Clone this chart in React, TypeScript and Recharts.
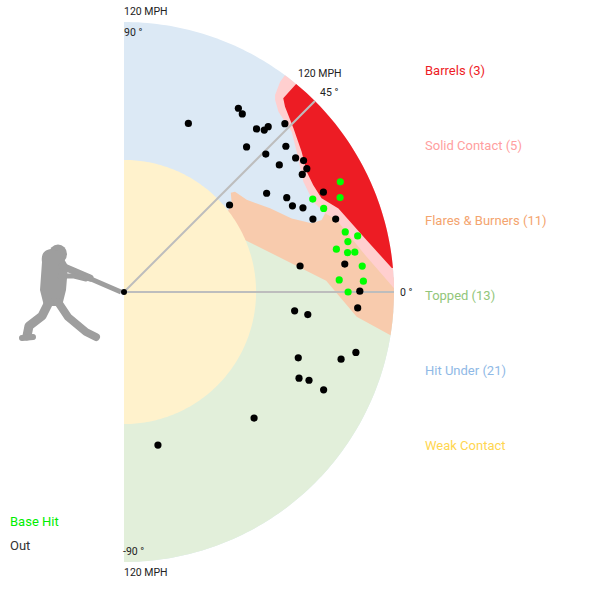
import { Scatter, ScatterChart, XAxis, YAxis } from 'recharts';

// page geometry: home plate sits at (124, 292), 120 mph = 270 px
const PX_PER_MPH = 2.25;
const ORIGIN_LEFT = 124;
const ORIGIN_TOP = 292;
const SIZE = 600;

const MAX_MPH = 120;
const WEAK_MPH = 58.7;

// batted balls: launch angle (deg) / exit velocity (mph)
const hitAngles = [27.0, 23.6, 26.2, 22.7, 15.2, 13.5, 12.7, 11.4, 10.0, 9.8, 6.2, 3.2, 2.6, 0.0];
const hitSpeeds = [107.9, 104.8, 93.5, 96.2, 101.9, 106.8, 102.0, 96.3, 100.9, 104.1, 106.5, 95.8, 106.5, 99.6];

const outAngles = [
  69.1, 58.1, 56.4, 50.9, 49.1, 48.9, 46.3, 49.8, 44.2, 42.0, 38.0, 36.2, 34.0, 33.4, 39.3, 34.7, 30.1,
  27.1, 25.2, 21.1, 39.5, 26.6, 19.0, 8.4, 7.2, 0.2, -3.9, -6.3, -7.0, -14.6, -17.2, -20.7, -26.2, -25.5,
  -26.1, -44.1, -77.5,
];
const outSpeeds = [
  80.2, 96.2, 95.0, 93.4, 95.2, 97.5, 103.5, 84.4, 87.9, 96.8, 96.8, 98.9, 98.0, 94.9, 89.2, 77.1, 83.6,
  84.1, 87.9, 90.0, 60.8, 99.1, 99.5, 79.1, 98.9, 104.8, 104.1, 76.3, 82.3, 106.5, 101.0, 82.8, 86.7, 91.1,
  98.8, 80.5, 69.7,
];

// zone outlines, [angle, mph]; the outer side runs along the 120 mph arc
const toppedEdge = [[3, 104], [10, 90], [20, 74], [30, 65], [30, 40]];
const flaresTop = [[42.9, 64.8], [42.1, 66.5], [36.9, 68.2], [29.8, 74.8], [23.7, 81.4], [20.1, 88.8], [20, 93.5], [21.4, 96], [22, 102], [10, 112], [3, 120]];
const flaresBottom = [[-9.2, 120], [-6.1, 104], [3.2, 90], [13.8, 69.1], [23.3, 58.5], [28, 50], [36, 55], [39.5, 62]];
const solidEdge = [[53.4, 116.4], [52.5, 110.3], [51.8, 108.6], [49.4, 105.5], [43.7, 103.1], [39.1, 98.9], [31.6, 93.6], [25.5, 93.2], [21.4, 96], [18.7, 99.8], [8.7, 108.4], [0.8, 120]];
const barrelEdge = [[50.6, 111.5], [49, 109.1], [44, 104.7], [38.3, 100.6], [33.4, 97.2], [29.5, 96.6], [25.4, 97.2], [21.3, 102.3], [12.6, 109.7], [5.1, 119.5]];

const zoneLabels = ['Barrels (3)', 'Solid Contact (5)', 'Flares & Burners (11)', 'Topped (13)', 'Hit Under (21)', 'Weak Contact'];
const zoneTextColors = ['#ee1c25', '#ffa0a0', '#f4a46e', '#92c67a', '#8fb9e6', '#ffd650'];

const rad = (a: number) => (a * Math.PI) / 180;
const toXY = ([a, v]: number[]) => ({ x: v * Math.cos(rad(a)), y: v * Math.sin(rad(a)) });
const arc = (from: number, to: number, v: number) => {
  const n = Math.max(2, Math.ceil(Math.abs(to - from)));
  return Array.from({ length: n + 1 }, (_, i) => [from + ((to - from) * i) / n, v]);
};

// drawn back to front: weak contact sits over the inner end of the flares zone
const zones = [
  { name: 'hitUnder', fill: '#dce9f5', pts: [[0, 0], ...arc(-90, 90, MAX_MPH)] },
  { name: 'topped', fill: '#e2efda', pts: [[0, 0], ...arc(-90, -4, MAX_MPH), ...toppedEdge] },
  { name: 'flares', fill: '#f8cbad', pts: [...flaresTop, ...arc(3, -9.2, MAX_MPH), ...flaresBottom] },
  { name: 'weak', fill: '#fff2cc', pts: [[0, 0], ...arc(-90, 90, WEAK_MPH)] },
  { name: 'solid', fill: '#ffcfcf', pts: [...solidEdge, ...arc(0.8, 53.4, MAX_MPH)] },
  { name: 'barrel', fill: '#ed1c24', pts: [...barrelEdge, ...arc(5.1, 50.4, MAX_MPH)] },
].map((z) => ({ ...z, data: z.pts.map(toXY) }));

const guides = [
  [[0, 0], [0, MAX_MPH]],
  [[45, 0], [45, MAX_MPH]],
].map((g) => g.map(toXY));

const hits = hitAngles.map((a, i) => toXY([a, hitSpeeds[i]]));
const outs = outAngles.map((a, i) => toXY([a, outSpeeds[i]]));

const xDomain = [-ORIGIN_LEFT / PX_PER_MPH, (SIZE - ORIGIN_LEFT) / PX_PER_MPH];
const yDomain = [-(SIZE - ORIGIN_TOP) / PX_PER_MPH, ORIGIN_TOP / PX_PER_MPH];

const noDot = () => <g />;
const dot = (color: string) => (p: any) => <circle cx={p.cx} cy={p.cy} r={3.6} fill={color} />;

const axisText = { fontSize: 10.5, fill: '#222' };
const BATTER = '#9e9e9e';

function Batter() {
  const limb = { fill: 'none', stroke: BATTER, strokeLinecap: 'round' as const, strokeLinejoin: 'round' as const };
  return (
    <g>
      <ellipse cx={58} cy={254} rx={9} ry={9.5} fill={BATTER} />
      <path d="M42,262 C40,250 50,246 60,252 L68,266 L66,290 L62,306 L44,306 L40,290 Z" fill={BATTER} />
      <polyline points="62,266 76,272 90,278" {...limb} strokeWidth={7} />
      <polyline points="60,276 74,276 86,279" {...limb} strokeWidth={5} />
      <polyline points="49,302 42,316 29,326 27,336" {...limb} strokeWidth={9} />
      <polyline points="22,338 33,337" {...limb} strokeWidth={6} />
      <polyline points="58,302 68,317 86,332 96,337" {...limb} strokeWidth={8} />
      <line x1={84} y1={276} x2={121} y2={292} stroke={BATTER} strokeWidth={5} />
    </g>
  );
}

export default function App() {
  return (
    <div style={{ position: 'absolute', left: 0, top: 0, width: SIZE, height: SIZE, fontFamily: 'Roboto, sans-serif', background: '#fff' }}>
      <svg width={SIZE} height={SIZE} style={{ position: 'absolute', left: 0, top: 0 }}>
        <Batter />
      </svg>
      <div style={{ position: 'absolute', left: 0, top: 0 }}>
        <ScatterChart width={SIZE} height={SIZE} margin={{ top: 0, right: 0, bottom: 0, left: 0 }}>
          <XAxis type="number" dataKey="x" domain={xDomain} allowDataOverflow hide height={0} />
          <YAxis type="number" dataKey="y" domain={yDomain} allowDataOverflow hide width={0} />
          {zones.map((z) => (
            <Scatter
              key={z.name}
              data={z.data}
              line={{ fill: z.fill, stroke: 'none' }}
              lineType="joint"
              shape={noDot}
              isAnimationActive={false}
            />
          ))}
          {guides.map((g, i) => (
            <Scatter
              key={`guide-${i}`}
              data={g}
              line={{ stroke: '#bdbdbd', strokeWidth: 2, fill: 'none' }}
              lineType="joint"
              shape={noDot}
              isAnimationActive={false}
            />
          ))}
          <Scatter data={outs} shape={dot('#000')} isAnimationActive={false} />
          <Scatter data={hits} shape={dot('#00ff00')} isAnimationActive={false} />
          <Scatter data={[{ x: 0, y: 0 }]} shape={(p: any) => <circle cx={p.cx} cy={p.cy} r={3} fill="#000" />} isAnimationActive={false} />
        </ScatterChart>
      </div>
      <svg width={SIZE} height={SIZE} style={{ position: 'absolute', left: 0, top: 0, pointerEvents: 'none' }}>
        <text x={124} y={15} {...axisText}>120 MPH</text>
        <text x={124} y={35.5} {...axisText}>90 °</text>
        <text x={298} y={76.5} {...axisText}>120 MPH</text>
        <text x={320} y={96} {...axisText}>45 °</text>
        <text x={400} y={296} {...axisText}>0 °</text>
        <text x={123} y={555} {...axisText}>-90 °</text>
        <text x={124} y={576} {...axisText}>120 MPH</text>
        {zoneLabels.map((label, i) => (
          <text key={label} x={425} y={75 + i * 75} fontSize={13} fill={zoneTextColors[i]}>
            {label}
          </text>
        ))}
        <text x={10} y={525.5} fontSize={13} fill="#00ee00">Base Hit</text>
        <text x={10} y={550} fontSize={13} fill="#333">Out</text>
      </svg>
    </div>
  );
}
